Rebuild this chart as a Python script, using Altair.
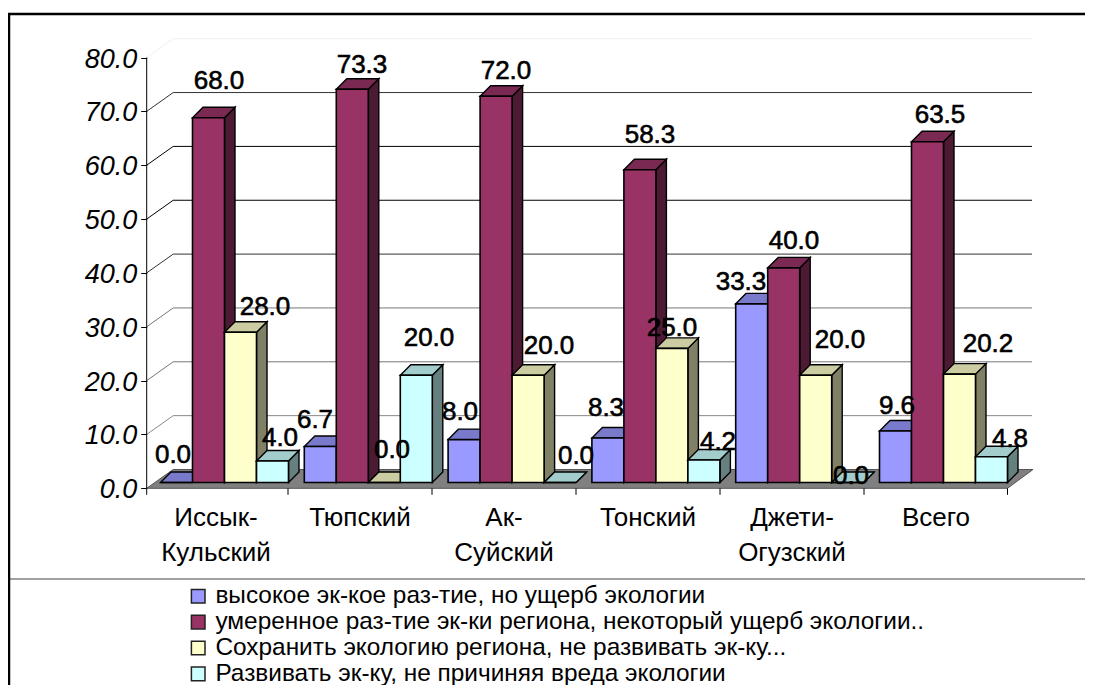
import altair as alt
import pandas as pd

categories = ["Иссык-\nКульский", "Тюпский", "Ак-\nСуйский", "Тонский", "Джети-\nОгузский", "Всего"]
series_names = [
    "высокое эк-кое раз-тие, но ущерб экологии",
    "умеренное раз-тие эк-ки региона, некоторый ущерб экологии..",
    "Сохранить экологию региона, не развивать эк-ку...",
    "Развивать эк-ку, не причиняя вреда экологии",
]
high_growth = [0.0, 6.7, 8.0, 8.3, 33.3, 9.6]
moderate_growth = [68.0, 73.3, 72.0, 58.3, 40.0, 63.5]
preserve = [28.0, 0.0, 20.0, 25.0, 20.0, 20.2]
no_harm = [4.0, 20.0, 0.0, 4.2, 0.0, 4.8]
series_values = [high_growth, moderate_growth, preserve, no_harm]
tick_values = [0, 10, 20, 30, 40, 50, 60, 70, 80]

front_colors = ["#9999FF", "#993366", "#FFFFCC", "#CCFFFF"]
top_colors = ["#7A7ACC", "#7A2952", "#CCCCA3", "#A3CCCC"]
side_colors = ["#4D4D80", "#4D1A33", "#808066", "#668080"]
grid_colors = {0: "#808080", 10: "#888888", 20: "#777777", 30: "#777777", 40: "#333333",
               50: "#000000", 60: "#000000", 70: "#333333", 80: "#EEEEEE"}

# label nudges in pixels from the bar's front-top centre (series rows, group columns)
label_dx = [[-3.5, -5.3, -4.1, -1.9, -10.7, 1.5], [10.5, 9.7, 9.9, 10.1, 10.3, 12.5],
            [24.5, 7.7, 20.9, 0.1, 24.3, 28.5], [7.5, 12.7, 15.9, 14.1, 3.3, 18.5]]
label_dy = [[-27.5, -26.6, -27.6, -30, -21.8, -25], [-36.7, -24.2, -25.2, -34.7, -26.9, -26.8],
            [-25.3, -32.5, -29.2, -20.4, -35.2, -30], [-23, -37.2, -26.5, -18, -6.5, -17.8]]

TOTAL_W, H = 1077, 677
X0, Y0 = 8, 8
AXIS_X, FLOOR_Y = 146.7, 488.3
K = 5.385
BAR_K = 5.365
BASE_Y = 482.5
BAR_W = 32
GROUP_STEP = 143.8
GROUP_START = 160.5
DEPTH_X, DEPTH_Y = 10.5, 10.5
WALL_X, WALL_Y = 26.5, 18.8
FONT = "Liberation Sans"
RIGHT, BOTTOM = X0 + TOTAL_W, Y0 + H
PAD_LEFT = AXIS_X - X0
W = TOTAL_W - PAD_LEFT


def v(py):
    return (FLOOR_Y - py) / K


xs = alt.Scale(domain=[AXIS_X, RIGHT], range=[0, W], nice=False, zero=False)
ys = alt.Scale(domain=[v(BOTTOM), v(Y0)], range=[H, 0], nice=False, zero=False)
y_axis = alt.Axis(
    values=tick_values, format=".1f", title=None, orient="left",
    domain=False, grid=False, ticks=True, tickColor="black", tickSize=6, tickWidth=1,
    labelFont=FONT, labelFontSize=27, labelFontStyle="italic", labelColor="black",
    labelPadding=4, labelOffset=1.5)
X = lambda f: alt.X(f, type="quantitative", scale=xs, axis=None)
Y = lambda f: alt.Y(f, type="quantitative", scale=ys, axis=y_axis)

layers = []

# frame
frame = pd.DataFrame([
    dict(x=8, x2=RIGHT, y=v(14), y2=v(14), c="#000000", w=2.5),
    dict(x=9, x2=9, y=v(14), y2=v(BOTTOM), c="#000000", w=2.5),
    dict(x=10, x2=RIGHT, y=v(579), y2=v(579), c="#444444", w=1.2),
])
layers.append(alt.Chart(frame).mark_rule().encode(
    x=X("x"), x2="x2", y=Y("y"), y2="y2",
    color=alt.Color("c:N", scale=None), strokeWidth=alt.StrokeWidth("w:Q", scale=None)))

# floor
floor = pd.DataFrame([
    dict(y=v(FLOOR_Y), x=AXIS_X, x2=1007.5),
    dict(y=v(FLOOR_Y - WALL_Y), x=AXIS_X + WALL_X, x2=1007.5 + WALL_X - 1),
])
layers.append(alt.Chart(floor).mark_area(orient="horizontal", color="#808080", stroke="#555555", strokeWidth=1).encode(
    y=Y("y"), x=X("x"), x2="x2"))

# back-wall gridlines and left-wall diagonals
grid_rows, wall_rows = [], []
for t in tick_values:
    py = FLOOR_Y - t * K
    if t > 0:
        grid_rows.append(dict(t=t, x=AXIS_X + WALL_X, x2=1032, y=v(py - WALL_Y), c=grid_colors[t]))
        wall_rows += [dict(t=t, x=AXIS_X, y=t, c=grid_colors[t], o=0),
                      dict(t=t, x=AXIS_X + WALL_X, y=v(py - WALL_Y), c=grid_colors[t], o=1)]
layers.append(alt.Chart(pd.DataFrame(grid_rows)).mark_rule(strokeWidth=1).encode(
    x=X("x"), x2="x2", y=Y("y"), color=alt.Color("c:N", scale=None)))
layers.append(alt.Chart(pd.DataFrame(wall_rows)).mark_line(strokeWidth=1).encode(
    x=X("x"), y=Y("y"), detail="t:N", order="o:Q", color=alt.Color("c:N", scale=None)))

# value axis line
layers.append(alt.Chart(pd.DataFrame({"y": [0], "y2": [80], "x": [AXIS_X]})).mark_rule(color="black", strokeWidth=1).encode(
    x=X("x"), y=Y("y"), y2="y2"))

# category ticks
boundaries = [AXIS_X, 288, 432, 576, 720, 864, 1007.5]
layers.append(alt.Chart(pd.DataFrame({"x": boundaries, "y": [v(FLOOR_Y)] * 7, "y2": [v(FLOOR_Y + 6.5)] * 7})).mark_rule(
    color="black", strokeWidth=1).encode(x=X("x"), y=Y("y"), y2="y2"))

# bars: one layer group for each series, so later bars cover earlier sides
d = (FLOOR_Y - BASE_Y) / K
lift = DEPTH_Y / K
for s, vals in enumerate(series_values):
    front, side, top = [], [], []
    for g, val in enumerate(vals):
        xl = GROUP_START + GROUP_STEP * g + BAR_W * s
        xr = xl + BAR_W
        ytop = v(BASE_Y - val * BAR_K)
        front.append(dict(series=series_names[s], x=xl, x2=xr, y=d, y2=ytop))
        side += [dict(g=g, x=xr, y=d, y2=ytop), dict(g=g, x=xr + DEPTH_X, y=d + lift, y2=ytop + lift)]
        top += [dict(g=g, y=ytop, x=xl, x2=xr), dict(g=g, y=ytop + lift, x=xl + DEPTH_X, x2=xr + DEPTH_X)]
    layers.append(alt.Chart(pd.DataFrame(side)).mark_area(
        orient="vertical", color=side_colors[s], stroke="black", strokeWidth=1.4).encode(
        x=X("x"), y=Y("y"), y2="y2", detail="g:N"))
    layers.append(alt.Chart(pd.DataFrame(top)).mark_area(
        orient="horizontal", color=top_colors[s], stroke="black", strokeWidth=1.4).encode(
        y=Y("y"), x=X("x"), x2="x2", detail="g:N"))
    layers.append(alt.Chart(pd.DataFrame(front)).mark_rect(stroke="black", strokeWidth=1.6).encode(
        x=X("x"), x2="x2", y=Y("y"), y2="y2",
        color=alt.Color("series:N", scale=alt.Scale(domain=series_names, range=front_colors),
                        sort=series_names,
                        legend=alt.Legend(
                            title=None, orient="none", legendX=178 - PAD_LEFT, legendY=576, direction="vertical",
                            symbolType="square", symbolSize=185, symbolStrokeColor="#222222",
                            symbolStrokeWidth=1.5, labelFont=FONT, labelFontSize=24.4, labelColor="black",
                            labelOffset=5, rowPadding=0.9, labelLimit=900, symbolOpacity=1))))

# value labels
rows = []
for s, vals in enumerate(series_values):
    for g, val in enumerate(vals):
        cx = GROUP_START + GROUP_STEP * g + BAR_W * s + BAR_W / 2
        py = BASE_Y - val * BAR_K
        rows.append(dict(x=cx + label_dx[s][g], y=v(py + label_dy[s][g]), t=f"{val:.1f}"))
layers.append(alt.Chart(pd.DataFrame(rows)).mark_text(
    font=FONT, fontSize=26, color="black", stroke="black", strokeWidth=0.6, align="center", baseline="middle").encode(
    x=X("x"), y=Y("y"), text="t:N"))

# category labels
cat_df = pd.DataFrame({"x": [216 + 144 * i for i in range(6)], "y": [v(518)] * 6, "t": categories})
layers.append(alt.Chart(cat_df).mark_text(
    font=FONT, fontSize=26, color="black", align="center", baseline="middle", lineBreak="\n", lineHeight=34.5).encode(
    x=X("x"), y=Y("y"), text="t:N"))

chart = alt.layer(*layers).properties(
    width=W, height=H, padding={"left": PAD_LEFT, "top": 0, "right": 0, "bottom": 0},
    autosize=alt.AutoSizeParams(type="none"), background="white"
).configure_view(stroke=None)

chart.save("out.html", embed_options={"renderer": "svg", "actions": False})
